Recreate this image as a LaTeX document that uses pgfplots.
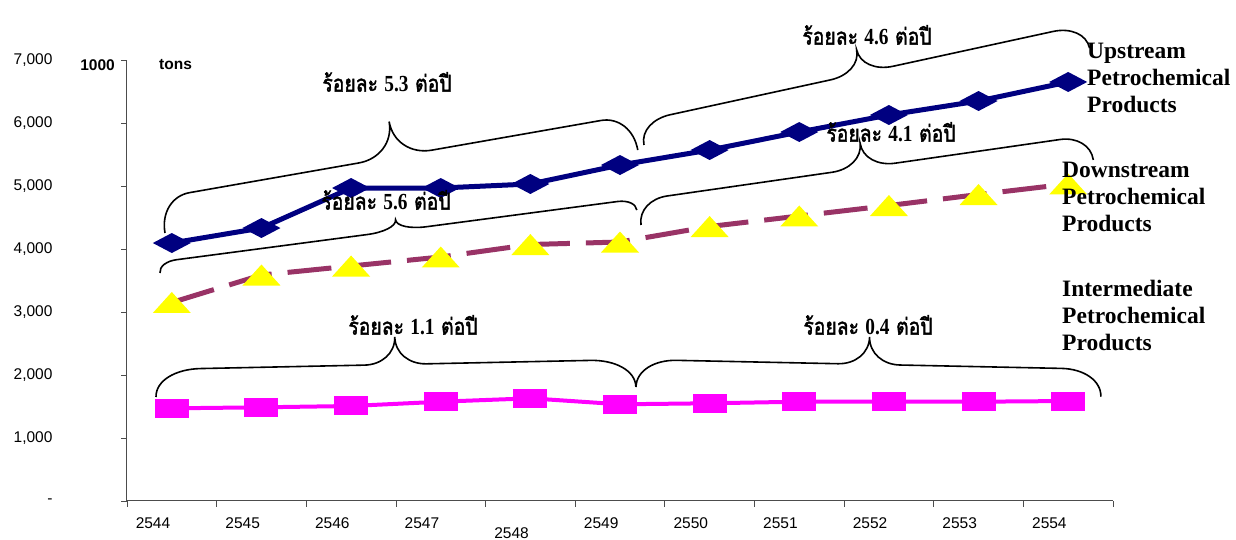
\documentclass[border=0pt]{standalone}
\usepackage{fontspec}
\setmainfont{Liberation Serif}
\setsansfont{Liberation Sans}
\newfontfamily\thaifont[Script=Thai, FakeBold=2]{Loma}
\usepackage{pgfplots}
\pgfplotsset{compat=1.18}

\definecolor{upnavy}{RGB}{0,0,128}
\definecolor{downmaroon}{RGB}{153,51,102}
\definecolor{intmag}{RGB}{255,0,255}
\definecolor{triyel}{RGB}{255,255,0}

% wide, flat marks as in the original
\pgfdeclareplotmark{wdiamond}{%
  \pgfpathmoveto{\pgfqpoint{-19pt}{0pt}}%
  \pgfpathlineto{\pgfqpoint{0pt}{10pt}}%
  \pgfpathlineto{\pgfqpoint{19pt}{0pt}}%
  \pgfpathlineto{\pgfqpoint{0pt}{-10pt}}%
  \pgfpathclose\pgfusepathqfill}
\pgfdeclareplotmark{wsquare}{%
  \pgfpathrectangle{\pgfqpoint{-17pt}{-9.5pt}}{\pgfqpoint{34pt}{19pt}}%
  \pgfusepathqfill}
\pgfdeclareplotmark{wtri}{%
  \pgfpathmoveto{\pgfqpoint{0pt}{10.5pt}}%
  \pgfpathlineto{\pgfqpoint{19pt}{-10.5pt}}%
  \pgfpathlineto{\pgfqpoint{-19pt}{-10.5pt}}%
  \pgfpathclose\pgfusepathqfill}

% growth label
\newcommand{\gr}[1]{\scalebox{0.84}[1]{\thaifont ร้อยละ {\rmfamily\bfseries #1} ต่อปี}}

% brace: start x, start y (from top), angle, length, amplitude, end width, tip width
\newcommand{\tbrace}[7]{%
  \begin{scope}[shift={(#1,-#2)}, rotate=#3]
    \draw[line width=1.6pt]
      (0,0) .. controls (0,0.3*#5) and (0.45*#6,0.5*#5) .. (#6,0.5*#5)
      -- (0.5*#4-#7,0.5*#5) .. controls (0.5*#4-0.45*#7,0.5*#5) and (0.5*#4,0.7*#5) .. (0.5*#4,#5)
      .. controls (0.5*#4,0.7*#5) and (0.5*#4+0.45*#7,0.5*#5) .. (0.5*#4+#7,0.5*#5)
      -- (#4-#6,0.5*#5) .. controls (#4-0.45*#6,0.5*#5) and (#4,0.3*#5) .. (#4,0);
  \end{scope}}

\begin{document}
\begin{tikzpicture}
\begin{axis}[
  at={(127pt,39pt)}, anchor=south west,
  scale only axis, width=986pt, height=441pt,
  xmin=-0.5, xmax=10.5, ymin=0, ymax=7000,
  axis lines=left,
  axis line style={draw=black!70, line width=1pt, -},
  clip=false,
  tick align=outside,
  major tick length=6pt,
  tick style={draw=black!70, line width=0.8pt},
  xtick={-0.5,0.5,...,10.5},
  xticklabels={2544,2545,2546,2547,\raisebox{-10pt}{2548},2549,2550,2551,2552,2553,2554,{}},
  xticklabel style={anchor=base, xshift=26pt, yshift=-22pt},
  ytick={0,1000,...,7000},
  yticklabels={-,{1,000},{2,000},{3,000},{4,000},{5,000},{6,000},{7,000}},
  yticklabel style={xshift=-65pt},
  tick label style={font=\fontsize{15.5}{18}\selectfont\sffamily},
]
% Intermediate Petrochemical Products
\addplot[color=intmag, line width=4pt, mark=wsquare] coordinates {
  (0,1471) (1,1487) (2,1508) (3,1576) (4,1630) (5,1535)
  (6,1551) (7,1576) (8,1576) (9,1576) (10,1587)
};
% Downstream Petrochemical Products
\addplot[color=downmaroon, line width=5pt, dash pattern=on 44pt off 16pt,
  mark=wtri, mark options={solid, color=triyel}] coordinates {
  (0,3151) (1,3587) (2,3730) (3,3873) (4,4071) (5,4111)
  (6,4357) (7,4524) (8,4690) (9,4865) (10,5032)
};
% Upstream Petrochemical Products
\addplot[color=upnavy, line width=5pt, mark=wdiamond] coordinates {
  (0,4095) (1,4333) (2,4968) (3,4968) (4,5032) (5,5333)
  (6,5571) (7,5857) (8,6127) (9,6349) (10,6651)
};
\end{axis}

\begin{scope}[shift={(0,540pt)}, x=1pt, y=1pt]
  \node[anchor=east, inner sep=0, font=\fontsize{15.5}{18}\selectfont\sffamily\bfseries] at (115,-64.7) {1000};
  \node[anchor=west, inner sep=0, font=\fontsize{15.5}{18}\selectfont\sffamily\bfseries] at (159,-64.7) {tons};

  \tbrace{165}{233}{9.95}{480}{71}{31}{37}
  \tbrace{644}{145}{12.27}{456}{48}{32}{32}
  \tbrace{160}{273}{7.52}{481}{22}{18}{30}
  \tbrace{641}{225}{8.18}{457}{50}{30}{32}
  \tbrace{156}{397}{1.2}{480}{55}{45}{31}
  \tbrace{636}{387}{-1.2}{465}{55}{40}{31}

  \begin{scope}[every node/.style={font=\fontsize{23}{26}\selectfont}]
    \node at (387,-82) {\gr{5.3}};
    \node at (867,-35) {\gr{4.6}};
    \node at (386,-200) {\gr{5.6}};
    \node at (891,-132) {\gr{4.1}};
    \node at (413,-325) {\gr{1.1}};
    \node at (868,-325) {\gr{0.4}};
  \end{scope}

  \begin{scope}[every node/.style={anchor=west, align=left, inner sep=0,
      font=\fontsize{23.5}{27}\selectfont\bfseries}]
    \node at (1087,-78) {Upstream\\Petrochemical\\Products};
    \node at (1062,-197) {Downstream\\Petrochemical\\Products};
    \node at (1062,-315) {Intermediate\\Petrochemical\\Products};
  \end{scope}
\end{scope}

\pgfresetboundingbox
\useasboundingbox (0,0) rectangle (1236pt,540pt);
\end{tikzpicture}
\end{document}
